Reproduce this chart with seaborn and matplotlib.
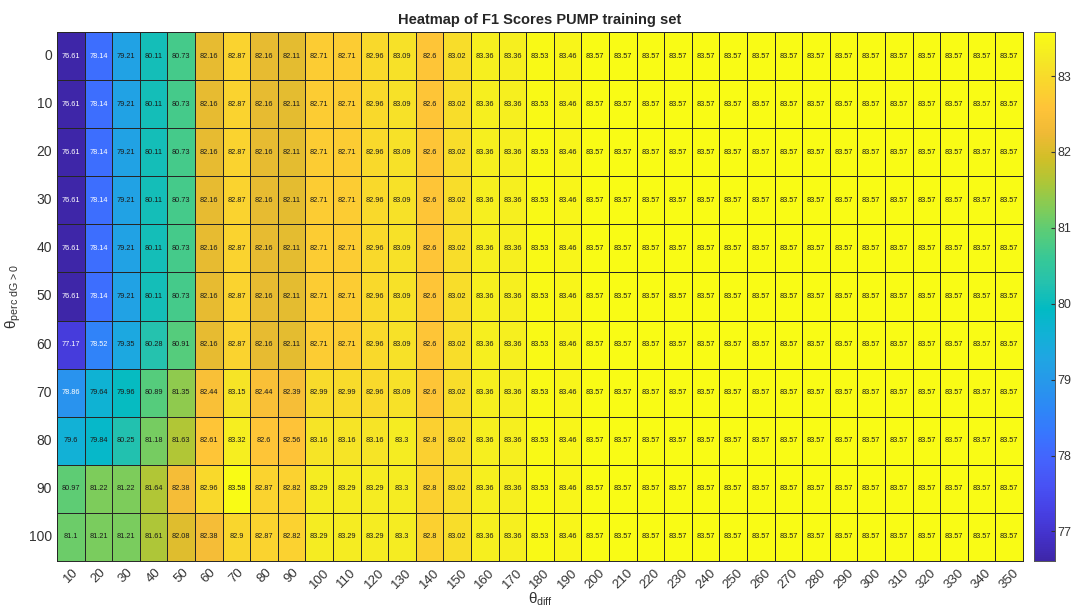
import numpy as np
import pandas as pd
import matplotlib
matplotlib.use("Agg")
import matplotlib.pyplot as plt
import seaborn as sns
from matplotlib.colors import LinearSegmentedColormap

# Parameter grids
theta_diff = list(range(10, 360, 10))          # columns
theta_perc = list(range(0, 110, 10))            # rows

# Shared tail of every row (theta_diff = 150 ... 350)
tail = [83.02, 83.36, 83.36, 83.53, 83.46] + [83.57] * 16

row_base = [76.61, 78.14, 79.21, 80.11, 80.73, 82.16, 82.87, 82.16, 82.11,
            82.71, 82.71, 82.96, 83.09, 82.6] + tail
row_60 = [77.17, 78.52, 79.35, 80.28, 80.91, 82.16, 82.87, 82.16, 82.11,
          82.71, 82.71, 82.96, 83.09, 82.6] + tail
row_70 = [78.86, 79.64, 79.96, 80.89, 81.35, 82.44, 83.15, 82.44, 82.39,
          82.99, 82.99, 82.96, 83.09, 82.6] + tail
row_80 = [79.6, 79.84, 80.25, 81.18, 81.63, 82.61, 83.32, 82.6, 82.56,
          83.16, 83.16, 83.16, 83.3, 82.8] + tail
row_90 = [80.97, 81.22, 81.22, 81.64, 82.38, 82.96, 83.58, 82.87, 82.82,
          83.29, 83.29, 83.29, 83.3, 82.8] + tail
row_100 = [81.1, 81.21, 81.21, 81.61, 82.08, 82.38, 82.9, 82.87, 82.82,
           83.29, 83.29, 83.29, 83.3, 82.8] + tail

f1_rows = [row_base] * 6 + [row_60, row_70, row_80, row_90, row_100]
df = pd.DataFrame(f1_rows, index=theta_perc, columns=theta_diff)

# Parula-like colormap
parula_pts = [
    (0.2422, 0.1504, 0.6603), (0.2647, 0.1978, 0.7952), (0.2783, 0.2559, 0.8991),
    (0.2810, 0.3228, 0.9579), (0.2699, 0.3892, 0.9906), (0.2206, 0.4603, 0.9973),
    (0.1786, 0.5289, 0.9682), (0.1540, 0.5902, 0.9218), (0.1248, 0.6459, 0.8883),
    (0.0689, 0.6948, 0.8394), (0.0067, 0.7312, 0.7660), (0.1408, 0.7584, 0.6842),
    (0.2161, 0.7843, 0.5923), (0.3406, 0.8008, 0.4789), (0.5044, 0.7993, 0.3480),
    (0.6720, 0.7793, 0.2227), (0.8203, 0.7498, 0.1535), (0.9393, 0.7288, 0.2100),
    (0.9970, 0.7659, 0.2199), (0.9786, 0.8386, 0.1766), (0.9597, 0.9135, 0.1423),
    (0.9769, 0.9839, 0.0805),
]
parula = LinearSegmentedColormap.from_list("parula", parula_pts, N=256)

plt.rcParams["font.family"] = ["Liberation Sans", "DejaVu Sans"]
plt.rcParams["mathtext.fontset"] = "custom"
plt.rcParams["mathtext.rm"] = "Liberation Sans"

fig = plt.figure(figsize=(10.74, 6.12), dpi=100)
ax = fig.add_axes([57 / 1074, 1 - 561 / 612, 966 / 1074, 529 / 612])
cax = fig.add_axes([1034 / 1074, 1 - 561 / 612, 21 / 1074, 529 / 612])

vmin, vmax = df.values.min(), df.values.max()
sns.heatmap(df, ax=ax, cmap=parula, vmin=vmin, vmax=vmax, cbar=True, cbar_ax=cax,
            linewidths=0.6, linecolor="#262626", annot=False)

# Cell value labels with contrasting text colour
for i, r in enumerate(df.index):
    for j, c in enumerate(df.columns):
        v = df.loc[r, c]
        col = "white" if v < 79.0 else "#1a1a1a"
        ax.text(j + 0.5, i + 0.5, f"{v:g}", ha="center", va="center",
                fontsize=5.3, color=col)

for side in ["top", "bottom", "left", "right"]:
    ax.spines[side].set_visible(True)
    ax.spines[side].set_color("#262626")
    ax.spines[side].set_linewidth(0.7)

ax.tick_params(axis="both", length=0, colors="#333333")
ax.set_yticklabels([str(v) for v in theta_perc], rotation=0, fontsize=10)
ax.set_xticklabels([str(v) for v in theta_diff], rotation=45, ha="center",
                   fontsize=9.5)
ax.tick_params(axis="x", pad=4)
ax.set_xlabel(r"$\mathrm{\theta_{diff}}$", fontsize=11, color="#333333", labelpad=0)
ax.set_ylabel(r"$\mathrm{\theta_{perc\ dG>0}}$", fontsize=11, color="#333333",
              labelpad=4)
ax.set_title("Heatmap of F1 Scores PUMP training set", fontsize=10.5,
             fontweight="bold", color="#262626", pad=6)

cax.set_yticks([77, 78, 79, 80, 81, 82, 83])
cax.tick_params(labelsize=9, length=3, direction="in", colors="#333333", pad=2)
for s in cax.spines.values():
    s.set_visible(True)
    s.set_color("#555555")
    s.set_linewidth(0.6)

fig.savefig("out.png", dpi=100)
